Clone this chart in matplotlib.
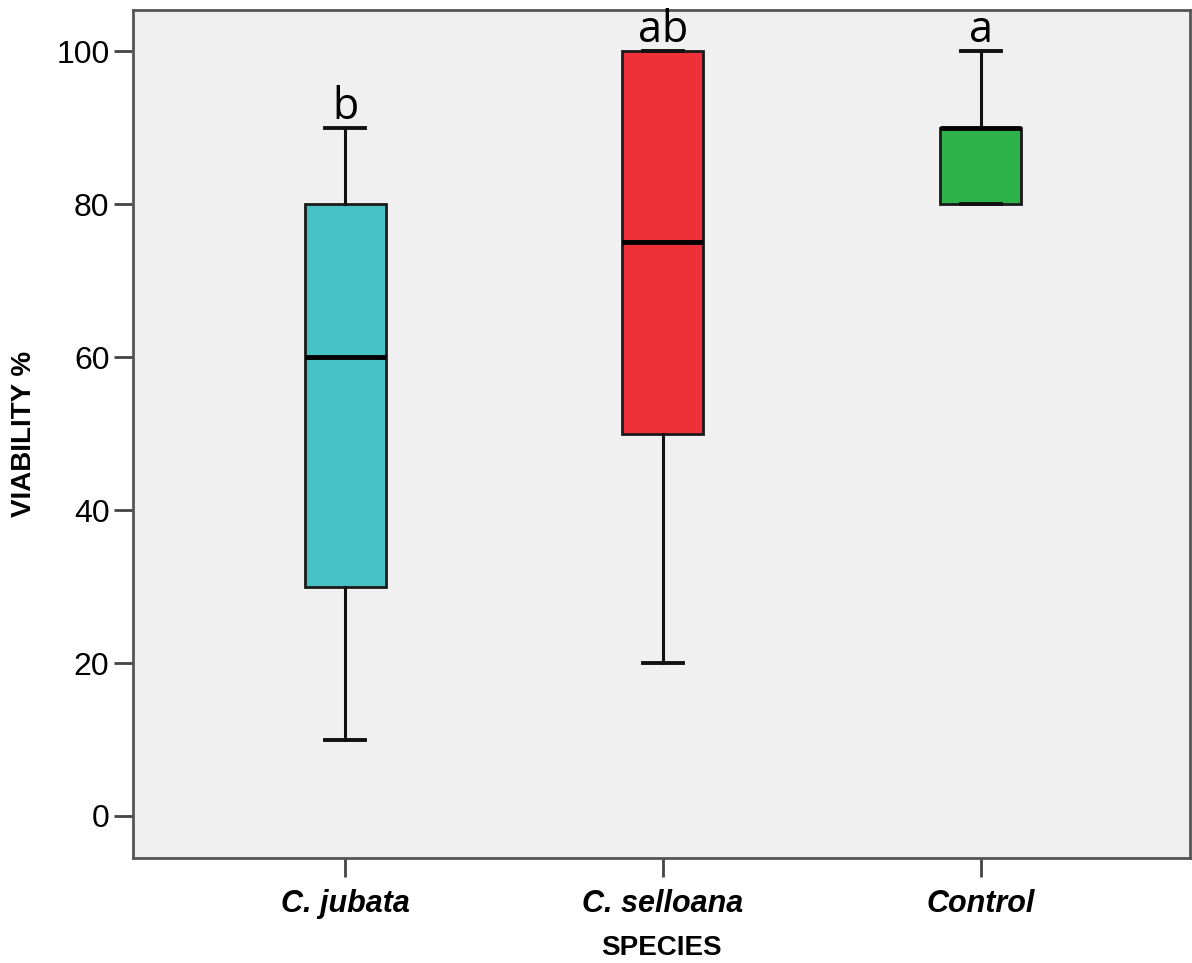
import matplotlib
matplotlib.use('Agg')
import matplotlib.pyplot as plt

species = ['C. jubata', 'C. selloana', 'Control']
whisker_low = [10, 20, 80]
q1 = [30, 50, 80]
median = [60, 75, 90]
q3 = [80, 100, 90]
whisker_high = [90, 100, 100]
letters = ['b', 'ab', 'a']
colors = ['#48c1c4', '#ee3039', '#2db34a']
yticks = [0, 20, 40, 60, 80, 100]

stats = []
for i, name in enumerate(species):
    stats.append({'label': name, 'whislo': whisker_low[i], 'q1': q1[i],
                  'med': median[i], 'q3': q3[i], 'whishi': whisker_high[i],
                  'fliers': []})

fig = plt.figure(figsize=(11.92, 9.63), dpi=100)
ax = fig.add_axes([0.1116, 0.109, 0.8864, 0.8806])
ax.set_facecolor('#f0f0f0')

pos = [1, 2, 3]
bp = ax.bxp(stats, positions=pos, widths=0.255, patch_artist=True,
            showfliers=False,
            boxprops=dict(edgecolor='#1a1a1a', linewidth=2),
            medianprops=dict(color='black', linewidth=3.5),
            whiskerprops=dict(color='#111111', linewidth=2.2),
            capprops=dict(color='#111111', linewidth=2.8),
            capwidths=0.126)
for patch, c in zip(bp['boxes'], colors):
    patch.set_facecolor(c)

for p, top, lab in zip(pos, whisker_high, letters):
    ax.text(p, top + 1.2, lab, ha='center', va='baseline',
            fontsize=31, family='Open Sans', color='black')

ax.set_xlim(0.333, 3.657)
ax.set_ylim(-5.5, 105.4)
ax.set_yticks(yticks)
ax.set_yticklabels([str(v) for v in yticks], fontsize=23, family='Liberation Sans')
ax.set_xticks(pos)
ax.set_xticklabels(species, fontsize=22, family='Liberation Sans',
                   fontweight='bold', style='italic')
ax.tick_params(axis='both', length=14, width=2, color='#444444')
ax.tick_params(axis='y', pad=3)
ax.tick_params(axis='x', pad=8)
for s in ax.spines.values():
    s.set_linewidth(2)
    s.set_color('#555555')

ax.set_ylabel('VIABILITY %', fontsize=20, family='Liberation Sans',
              fontweight='bold', labelpad=14)
ax.set_xlabel('SPECIES', fontsize=20, family='Liberation Sans',
              fontweight='bold', labelpad=12)

fig.savefig('out.png', dpi=100)
